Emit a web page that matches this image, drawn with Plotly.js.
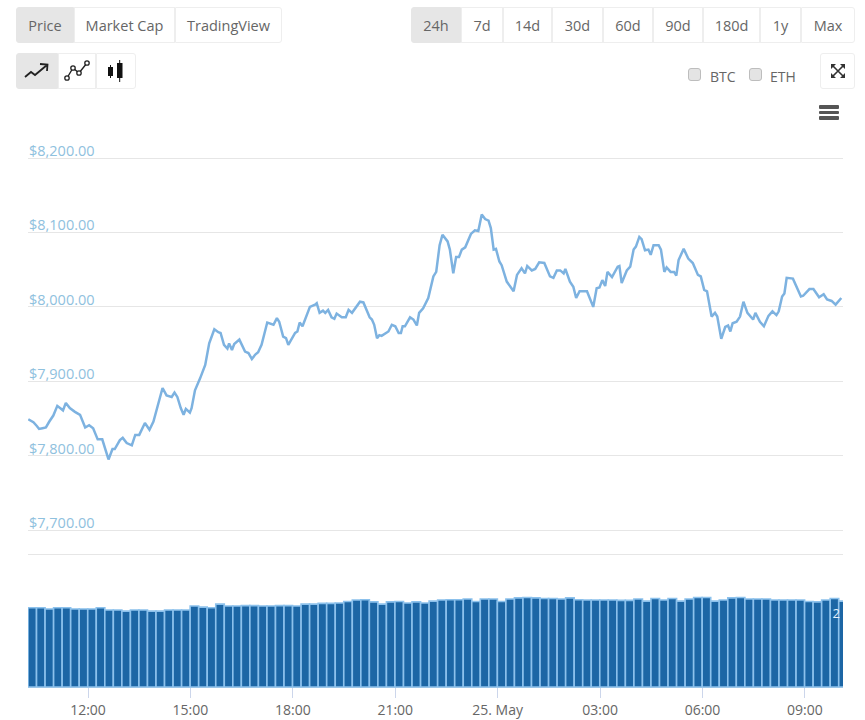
<!DOCTYPE html>
<html>
<head>
<meta charset="utf-8">
<script src="https://cdn.plot.ly/plotly-3.0.1.min.js"></script>
<style>
html,body{margin:0;padding:0;background:#fff;width:865px;height:720px;overflow:hidden;font-family:"Open Sans",sans-serif;}
#chart{position:absolute;left:0;top:0;width:865px;height:720px;}
.btn{position:absolute;box-sizing:border-box;background:#fff;color:#666;font-size:14.5px;display:flex;align-items:center;justify-content:center;border:1px solid #eee;}
.btn.on{background:#e6e6e6;border-color:#e6e6e6;}
.btn.first{border-radius:3px 0 0 3px;}
.btn.last{border-radius:0 3px 3px 0;}
.btn.solo{border-radius:3px;}
.box{position:absolute;width:13px;height:13px;box-sizing:border-box;background:#e4e4e4;border:1px solid #bdbdbd;border-radius:3px;}
.lbl{position:absolute;color:#666;font-size:14px;line-height:18px;}
.bar{position:absolute;left:819px;width:20px;height:3.5px;background:#555;border-radius:1px;}
svg{position:absolute;}
</style>
</head>
<body>
<div id="chart"></div>
<div id="ui"></div>
<script>
// Minutes after 12:00 on 24 May, and price in USD
const priceMinutes = [-105,-96,-90,-86,-80,-74,-68,-61,-54,-44,-39,-32,-23,-14,-5,2,9,17,25,36,43,47,56,61,68,77,83,90,100,108,115,122,131,138,147,152,157,163,168,172,179,182,188,197,206,213,222,229,233,239,245,248,253,257,266,276,282,288,294,299,305,315,326,332,336,343,348,352,364,368,372,377,390,399,402,407,413,417,422,428,433,437,446,453,458,464,478,484,495,499,503,508,512,516,528,534,540,546,550,553,557,566,572,578,582,589,598,607,612,618,623,632,636,642,647,652,657,663,673,680,686,692,698,704,708,713,717,723,727,736,742,748,754,762,768,772,780,786,793,802,812,818,824,830,836,839,847,853,858,864,877,888,894,899,904,909,913,921,931,934,938,947,953,959,963,969,973,979,985,989,994,1003,1007,1013,1017,1024,1030,1034,1038,1047,1055,1063,1072,1077,1083,1088,1096,1102,1106,1113,1120,1125,1129,1133,1140,1146,1152,1159,1169,1173,1181,1188,1196,1203,1210,1214,1220,1224,1228,1239,1253,1257,1268,1275,1285,1293,1299,1307,1314,1324];
const priceValues = [7849,7845,7840,7836,7837,7838,7846,7854,7867,7861,7871,7864,7859,7855,7838,7841,7837,7822,7822,7795,7809,7809,7821,7824,7817,7814,7828,7828,7844,7835,7846,7867,7891,7881,7879,7885,7879,7864,7855,7863,7858,7864,7888,7904,7922,7951,7970,7966,7965,7949,7944,7951,7942,7950,7956,7940,7938,7930,7936,7939,7949,7979,7976,7985,7980,7960,7958,7949,7965,7967,7979,7974,8000,8003,8005,7992,7995,7992,7996,7986,7984,7991,7986,7986,7996,7992,8007,8006,7986,7983,7976,7958,7962,7961,7967,7976,7974,7965,7965,7974,7974,7986,7983,7975,7992,7998,8012,8041,8047,8083,8097,8088,8077,8045,8067,8067,8077,8080,8098,8103,8102,8124,8118,8116,8106,8077,8078,8061,8056,8034,8028,8021,8043,8052,8045,8055,8049,8051,8060,8059,8041,8039,8049,8049,8045,8051,8034,8027,8012,8021,8021,8000,8025,8026,8036,8028,8047,8040,8054,8055,8032,8049,8054,8077,8081,8094,8091,8076,8077,8070,8083,8083,8077,8047,8053,8047,8047,8042,8063,8078,8065,8059,8043,8041,8023,8021,7987,7992,7987,7957,7973,7975,7967,7978,7980,7987,8007,7992,7983,7992,7980,7974,7988,7994,7989,7994,8014,8018,8039,8038,8014,8015,8024,8024,8013,8017,8010,8008,8003,8012];
// Volume in billions, one bar per quarter of an hour
const volumeValues = [2.14,2.14,2.11,2.14,2.14,2.11,2.11,2.11,2.14,2.08,2.08,2.05,2.08,2.08,2.05,2.05,2.08,2.08,2.08,2.19,2.16,2.14,2.24,2.19,2.19,2.20,2.20,2.19,2.19,2.20,2.20,2.19,2.24,2.24,2.26,2.26,2.27,2.31,2.35,2.36,2.30,2.24,2.30,2.31,2.27,2.30,2.27,2.32,2.35,2.36,2.36,2.38,2.31,2.38,2.38,2.31,2.38,2.41,2.42,2.41,2.39,2.39,2.38,2.41,2.36,2.35,2.35,2.35,2.35,2.34,2.34,2.38,2.32,2.39,2.35,2.39,2.32,2.38,2.42,2.42,2.32,2.35,2.41,2.42,2.38,2.38,2.38,2.35,2.35,2.35,2.35,2.31,2.30,2.35,2.39,2.32];
const tickMinutes = [0,180,360,540,720,900,1080,1260];
const tickLabels = ["12:00","15:00","18:00","21:00","25. May","03:00","06:00","09:00"];
const priceTicks = [7700,7800,7900,8000,8100,8200];
const priceTickLabels = ["$7,700.00","$7,800.00","$7,900.00","$8,000.00","$8,100.00","$8,200.00"];
const seriesButtons = ["Price","Market Cap","TradingView"];
const rangeButtons = ["24h","7d","14d","30d","60d","90d","180d","1y","Max"];
const compareLabels = ["BTC","ETH"];

const BASE = Date.UTC(2019,4,24,12,0,0);
const toDate = m => new Date(BASE + m*60000).toISOString().slice(0,19).replace('T',' ');
const volumeMinutes = volumeValues.map((_,i)=> -98 + 15*i);
const xRange = [toDate(-105.5), toDate(1327)];
const volX = volumeMinutes.map(toDate);

const traces = [
 {type:'scatter',mode:'lines',x:priceMinutes.map(toDate),y:priceValues,xaxis:'x2',yaxis:'y',
  line:{color:'#7db2e0',width:2.5,shape:'linear'},hoverinfo:'skip',showlegend:false},
 {type:'bar',x:volX,y:volumeValues,xaxis:'x',yaxis:'y2',marker:{color:'#1c66a5',line:{width:1.6,color:'#8cc1ec'}},
  width:15*60000,hoverinfo:'skip',showlegend:false}
];
const layout = {
 width:865,height:720,paper_bgcolor:'#fff',plot_bgcolor:'#fff',
 margin:{l:28,r:22,t:100,b:33,pad:0},barmode:'overlay',showlegend:false,
 font:{family:'"Open Sans",sans-serif',size:14,color:'#666'},
 xaxis:{type:'date',domain:[0,1],anchor:'y2',range:xRange,tickmode:'array',
  tickvals:tickMinutes.map(toDate),ticktext:tickLabels,ticks:'outside',ticklen:10,tickwidth:1,tickcolor:'#ccd6eb',
  tickfont:{size:14,color:'#666'},showgrid:false,zeroline:false,showline:true,linecolor:'#9cc6e8',linewidth:1},
 xaxis2:{type:'date',domain:[0,1],anchor:'y',matches:'x',range:xRange,showticklabels:false,ticks:'',showgrid:false,
  zeroline:false,showline:true,linecolor:'#e6e6e6',linewidth:1},
 yaxis:{domain:[0.2266,1],anchor:'x2',range:[7668,8278],tickmode:'array',tickvals:priceTicks,ticktext:priceTickLabels,
  ticklabelposition:'inside top',ticklabelstandoff:-2,ticklabelshift:3,tickfont:{size:14.5,color:'#8fc1de'},
  showgrid:true,gridcolor:'#e6e6e6',gridwidth:1,zeroline:false,showline:false,ticks:''},
 yaxis2:{domain:[0,0.2266],anchor:'x',side:'right',range:[0,3.595],tickmode:'array',tickvals:[2],ticktext:['2'],
  ticklabelposition:'inside',tickfont:{size:13,color:'#e8f2fa'},showgrid:false,zeroline:false,showline:false,ticks:''}
};
Plotly.newPlot('chart',traces,layout,{displayModeBar:false,staticPlot:true});

// Page controls above the chart
const ui = document.getElementById('ui');
function btn(text,l,r,t,b,on,cls){
  const d=document.createElement('div');d.className='btn'+(on?' on':'')+(cls?' '+cls:'');
  d.style.cssText=`left:${l}px;width:${r-l}px;top:${t}px;height:${b-t}px;`;
  if(text.startsWith('<'))d.innerHTML=text;else d.textContent=text;ui.appendChild(d);return d;
}
const seriesEdges=[16,74,175,282];
seriesButtons.forEach((s,i)=>btn(s,seriesEdges[i],seriesEdges[i+1],7,43,i===0,i===0?'first':(i===seriesButtons.length-1?'last':'')));
const rangeEdges=[411,461,503,552,603,653,703,760,801,855];
rangeButtons.forEach((s,i)=>btn(s,rangeEdges[i],rangeEdges[i+1],7,43,i===0,i===0?'first':(i===rangeButtons.length-1?'last':'')));
const ic1='<svg width="28" height="20" viewBox="0 0 28 20" style="position:static"><path d="M2 16 L8 11 L12 14 L24 4 M17 3 L24.5 3.5 L24 10" fill="none" stroke="#222" stroke-width="1.8"/></svg>';
const ic2='<svg width="28" height="24" viewBox="0 0 28 24" style="position:static"><path d="M4 19 L10 9 L16 14 L24 4" fill="none" stroke="#222" stroke-width="1.4"/><circle cx="4" cy="19" r="2.2" fill="#fff" stroke="#222" stroke-width="1.3"/><circle cx="10" cy="9" r="2.2" fill="#fff" stroke="#222" stroke-width="1.3"/><circle cx="16" cy="14" r="2.2" fill="#fff" stroke="#222" stroke-width="1.3"/><circle cx="24" cy="4" r="2.2" fill="#fff" stroke="#222" stroke-width="1.3"/></svg>';
const ic3='<svg width="20" height="24" viewBox="0 0 20 24" style="position:static"><rect x="2" y="8" width="5" height="9" fill="#111"/><line x1="4.5" y1="6" x2="4.5" y2="19" stroke="#111"/><rect x="11" y="4" width="5.5" height="15" fill="#111"/><line x1="13.7" y1="1" x2="13.7" y2="23" stroke="#111"/></svg>';
btn(ic1,16,58,53,89,true,'first');btn(ic2,58,96,53,89,false);btn(ic3,96,136,53,89,false,'last');
const ic4='<svg width="16" height="16" viewBox="0 0 16 16" style="position:static"><path d="M2 2 L14 14 M14 2 L2 14" stroke="#333" stroke-width="1.6"/><path d="M1 6 L1 1 L6 1 Z M10 1 L15 1 L15 6 Z M1 10 L1 15 L6 15 Z M15 10 L15 15 L10 15 Z" fill="#333"/></svg>';
btn(ic4,820,855,53,89,false,'solo');
const boxX=[688,749], lblX=[710,770];
compareLabels.forEach((s,i)=>{
  const b=document.createElement('div');b.className='box';b.style.left=boxX[i]+'px';b.style.top='68px';ui.appendChild(b);
  const l=document.createElement('div');l.className='lbl';l.style.left=lblX[i]+'px';l.style.top='68px';l.textContent=s;ui.appendChild(l);
});
[105,110.5,116].forEach(t=>{const b=document.createElement('div');b.className='bar';b.style.top=t+'px';ui.appendChild(b);});
</script>
</body>
</html>
